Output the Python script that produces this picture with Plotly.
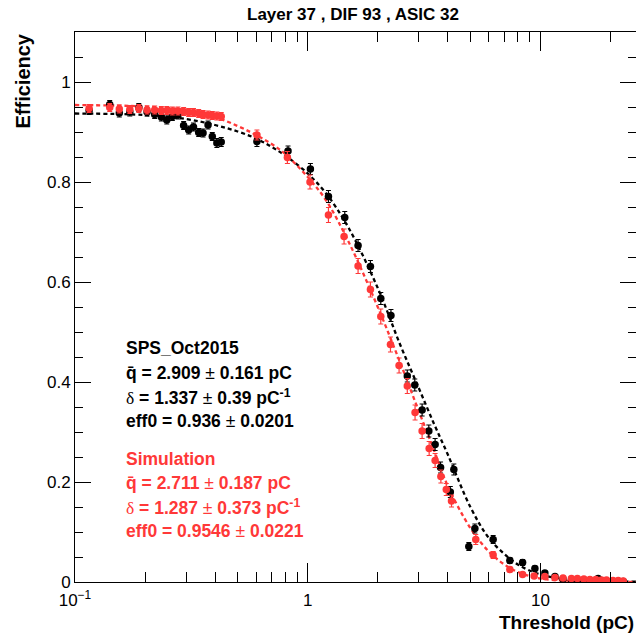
import plotly.graph_objects as go

# ---------------- data ----------------
sps_x = [0.115, 0.141, 0.155, 0.172, 0.188, 0.204, 0.220, 0.235, 0.248, 0.262,
         0.277, 0.293, 0.308, 0.323, 0.340, 0.355, 0.373, 0.389, 0.407, 0.425,
         0.605, 0.823, 1.027, 1.228, 1.443, 1.646, 1.86, 2.061, 2.279, 2.679,
         2.885, 3.102, 3.315, 3.528, 3.723, 4.10, 4.246, 4.925, 5.228, 6.266,
         7.391, 8.384, 9.47, 10.45, 11.55, 12.5, 13.6, 14.4, 15.4, 16.3,
         17.7, 18.3, 19.2, 20.5, 21.6, 22.7]
sps_y = [0.943, 0.955, 0.938, 0.940, 0.949, 0.940, 0.935, 0.930, 0.924, 0.931,
         0.934, 0.913, 0.904, 0.910, 0.899, 0.898, 0.914, 0.891, 0.878, 0.880,
         0.881, 0.862, 0.826, 0.771, 0.729, 0.673, 0.631, 0.567, 0.533, 0.412,
         0.394, 0.344, 0.302, 0.275, 0.229, 0.180, 0.225, 0.071, 0.107, 0.085,
         0.043, 0.039, 0.027, 0.018, 0.011, 0.006, 0.004, 0.003, 0.004, 0.003,
         0.007, 0.002, 0.002, 0.001, 0.001, 0.001]
sps_err = [0.008, 0.008, 0.008, 0.008, 0.008, 0.008, 0.008, 0.008, 0.008, 0.008,
           0.008, 0.008, 0.008, 0.008, 0.008, 0.008, 0.008, 0.008, 0.009, 0.009,
           0.010, 0.010, 0.011, 0.012, 0.012, 0.012, 0.012, 0.012, 0.012, 0.012,
           0.012, 0.012, 0.012, 0.012, 0.011, 0.011, 0.011, 0.008, 0.009, 0.008,
           0.006, 0.006, 0.005, 0.004, 0.003, 0.002, 0.002, 0.002, 0.002, 0.002,
           0.002, 0.001, 0.001, 0.001, 0.001, 0.001]

sim_x = [0.115, 0.141, 0.155, 0.172, 0.188, 0.204, 0.220, 0.235, 0.248, 0.262,
         0.277, 0.293, 0.308, 0.323, 0.340, 0.355, 0.373, 0.389, 0.407, 0.425,
         0.605, 0.818, 1.023, 1.228, 1.433, 1.646, 1.86, 2.061, 2.268, 2.47,
         2.679, 2.893, 3.102, 3.326, 3.528, 3.735, 3.94, 4.15, 5.275, 6.266,
         7.391, 8.384, 9.40, 10.45, 11.55, 12.51, 13.59, 14.42, 15.37, 16.32,
         17.3, 18.3, 19.23, 20.5, 21.6, 22.7]
sim_y = [0.947, 0.949, 0.946, 0.945, 0.947, 0.944, 0.944, 0.943, 0.943, 0.942,
         0.942, 0.941, 0.939, 0.939, 0.937, 0.935, 0.934, 0.933, 0.932, 0.931,
         0.894, 0.849, 0.800, 0.734, 0.691, 0.632, 0.585, 0.531, 0.475, 0.433,
         0.392, 0.339, 0.302, 0.267, 0.243, 0.211, 0.185, 0.162, 0.085, 0.054,
         0.025, 0.015, 0.012, 0.011, 0.009, 0.008, 0.007, 0.007, 0.006, 0.005,
         0.005, 0.004, 0.004, 0.003, 0.003, 0.002]
sim_err = [0.008, 0.008, 0.008, 0.008, 0.008, 0.008, 0.008, 0.008, 0.008, 0.008,
           0.008, 0.008, 0.008, 0.008, 0.008, 0.008, 0.008, 0.008, 0.008, 0.008,
           0.010, 0.012, 0.014, 0.015, 0.015, 0.015, 0.015, 0.015, 0.015, 0.015,
           0.015, 0.015, 0.015, 0.014, 0.014, 0.013, 0.012, 0.012, 0.010, 0.007,
           0.005, 0.004, 0.003, 0.003, 0.002, 0.002, 0.002, 0.002, 0.002, 0.002,
           0.002, 0.002, 0.001, 0.001, 0.001, 0.001]

# fitted curves
curve_x = [0.1, 0.2, 0.3, 0.4, 0.5, 0.6, 0.7, 0.8, 1.0, 1.2, 1.5, 2.0, 2.5,
           3.0, 3.5, 4.0, 5.0, 6.0, 7.0, 8.0, 10.0, 14.0, 20.0, 25.8]
sps_fit = [0.937, 0.934, 0.926, 0.914, 0.901, 0.887, 0.870, 0.853, 0.817, 0.777,
           0.708, 0.588, 0.474, 0.388, 0.315, 0.255, 0.150, 0.088, 0.056, 0.035,
           0.015, 0.004, 0.0015, 0.0007]
sim_fit = [0.954, 0.951, 0.944, 0.930, 0.912, 0.894, 0.876, 0.856, 0.810, 0.763,
           0.680, 0.550, 0.438, 0.342, 0.262, 0.192, 0.108, 0.061, 0.035, 0.020,
           0.007, 0.002, 0.0006, 0.0003]

x_tick_vals = [0.1, 1, 10]
x_tick_text = ["10<sup>\u22121</sup>", "1", "10"]
x_minor_vals = [0.2, 0.3, 0.4, 0.5, 0.6, 0.7, 0.8, 0.9,
                2, 3, 4, 5, 6, 7, 8, 9, 20]
y_tick_vals = [0, 0.2, 0.4, 0.6, 0.8, 1.0]
y_tick_text = ["0", "0.2", "0.4", "0.6", "0.8", "1"]

title_text = "Layer 37 , DIF 93 , ASIC 32"
sps_lines = ["SPS_Oct2015", ("q", "2.909", "0.161"), ("d", "1.337", "0.39"),
             ("e", "0.936", "0.0201")]
sim_lines = ["Simulation", ("q", "2.711", "0.187"), ("d", "1.287", "0.373"),
             ("e", "0.9546", "0.0221")]

BLACK = "#000000"
RED = "#ff3838"
FONT = "Liberation Sans"

# ---------------- figure ----------------
fig = go.Figure()

fig.add_trace(go.Scatter(x=curve_x, y=sps_fit, mode="lines", line_shape="spline",
                         line=dict(color=BLACK, width=2.3, dash="4px,3px"),
                         hoverinfo="skip"))
fig.add_trace(go.Scatter(x=curve_x, y=sim_fit, mode="lines", line_shape="spline",
                         line=dict(color=RED, width=2.3, dash="4px,3px"),
                         hoverinfo="skip"))
fig.add_trace(go.Scatter(x=sps_x, y=sps_y, mode="markers",
                         marker=dict(color=BLACK, size=7.5),
                         error_y=dict(type="data", array=sps_err, color=BLACK,
                                      thickness=1.2, width=2.5)))
fig.add_trace(go.Scatter(x=sim_x, y=sim_y, mode="markers",
                         marker=dict(color=RED, size=7.5),
                         error_y=dict(type="data", array=sim_err, color=RED,
                                      thickness=1.2, width=2.5)))

L, R, T, B = 75, 0, 32, 51
W, H = 636, 633
pw, ph = W - L - R, H - T - B


def px(xp):
    return (xp - L) / pw


def py(yp):
    return (H - B - yp) / ph


def line_html(item):
    if isinstance(item, str):
        return "<b>%s</b>" % item
    kind, val, err = item
    pm = "<span style='font-weight:normal'> \u00b1 </span>"
    if kind == "q":
        return "<b>q\u0304 = %s</b>%s<b>%s pC</b>" % (val, pm, err)
    if kind == "d":
        return ("<span style='font-family:Liberation Serif;font-weight:normal'>\u03b4</span>"
                "<b> = %s</b>%s<b>%s pC<sup>-1</sup></b>" % (val, pm, err))
    return "<b>eff0 = %s</b>%s<b>%s</b>" % (val, pm, err)


annotations = []
annotations.append(dict(text="<b>%s</b>" % title_text, x=px(353), y=py(14),
                        xref="paper", yref="paper", showarrow=False,
                        xanchor="center", yanchor="middle",
                        font=dict(family=FONT, size=17, color=BLACK)))
annotations.append(dict(text="<b>Efficiency</b>", x=px(22), y=1.0,
                        xref="paper", yref="paper", showarrow=False, textangle=-90,
                        xanchor="center", yanchor="top",
                        font=dict(family=FONT, size=20, color=BLACK)))
annotations.append(dict(text="<b>Threshold (pC)</b>", x=1.0, y=py(622),
                        xref="paper", yref="paper", showarrow=False,
                        xanchor="right", yanchor="middle",
                        font=dict(family=FONT, size=19, color=BLACK)))

ys_sps = [348, 373, 397, 421]
ys_sim = [459, 483, 507, 531]
for item, yy in zip(sps_lines, ys_sps):
    annotations.append(dict(text=line_html(item), x=px(124), y=py(yy),
                            xref="paper", yref="paper", showarrow=False,
                            xanchor="left", yanchor="middle",
                            font=dict(family=FONT, size=17.5, color=BLACK)))
for item, yy in zip(sim_lines, ys_sim):
    annotations.append(dict(text=line_html(item), x=px(124), y=py(yy),
                            xref="paper", yref="paper", showarrow=False,
                            xanchor="left", yanchor="middle",
                            font=dict(family=FONT, size=17.5, color=RED)))

fig.update_layout(
    width=W, height=H,
    margin=dict(l=L, r=R, t=T, b=B, pad=0),
    paper_bgcolor="white", plot_bgcolor="white",
    showlegend=False,
    annotations=annotations,
    font=dict(family=FONT, size=17, color=BLACK),
)
fig.update_xaxes(type="log", range=[-1, 1.4108],
                 showline=True, linecolor=BLACK, linewidth=1, mirror="ticks",
                 showgrid=False, zeroline=False,
                 ticks="inside", ticklen=19, tickwidth=1, tickcolor=BLACK,
                 tickmode="array", tickvals=x_tick_vals, ticktext=x_tick_text,
                 ticklabelstandoff=3,
                 tickfont=dict(family=FONT, size=17, color=BLACK),
                 minor=dict(tickmode="array", tickvals=x_minor_vals, ticks="inside",
                            ticklen=10, tickwidth=1, tickcolor=BLACK, showgrid=False))
fig.update_yaxes(range=[0, 1.1],
                 showline=True, linecolor=BLACK, linewidth=1, mirror="ticks",
                 showgrid=False, zeroline=False,
                 ticks="inside", ticklen=16, tickwidth=1, tickcolor=BLACK,
                 tickmode="array", tickvals=y_tick_vals, ticktext=y_tick_text,
                 tickfont=dict(family=FONT, size=17, color=BLACK),
                 minor=dict(dtick=0.05, ticks="inside", ticklen=8, tickwidth=1,
                            tickcolor=BLACK, showgrid=False))

fig.write_html("out.html")
